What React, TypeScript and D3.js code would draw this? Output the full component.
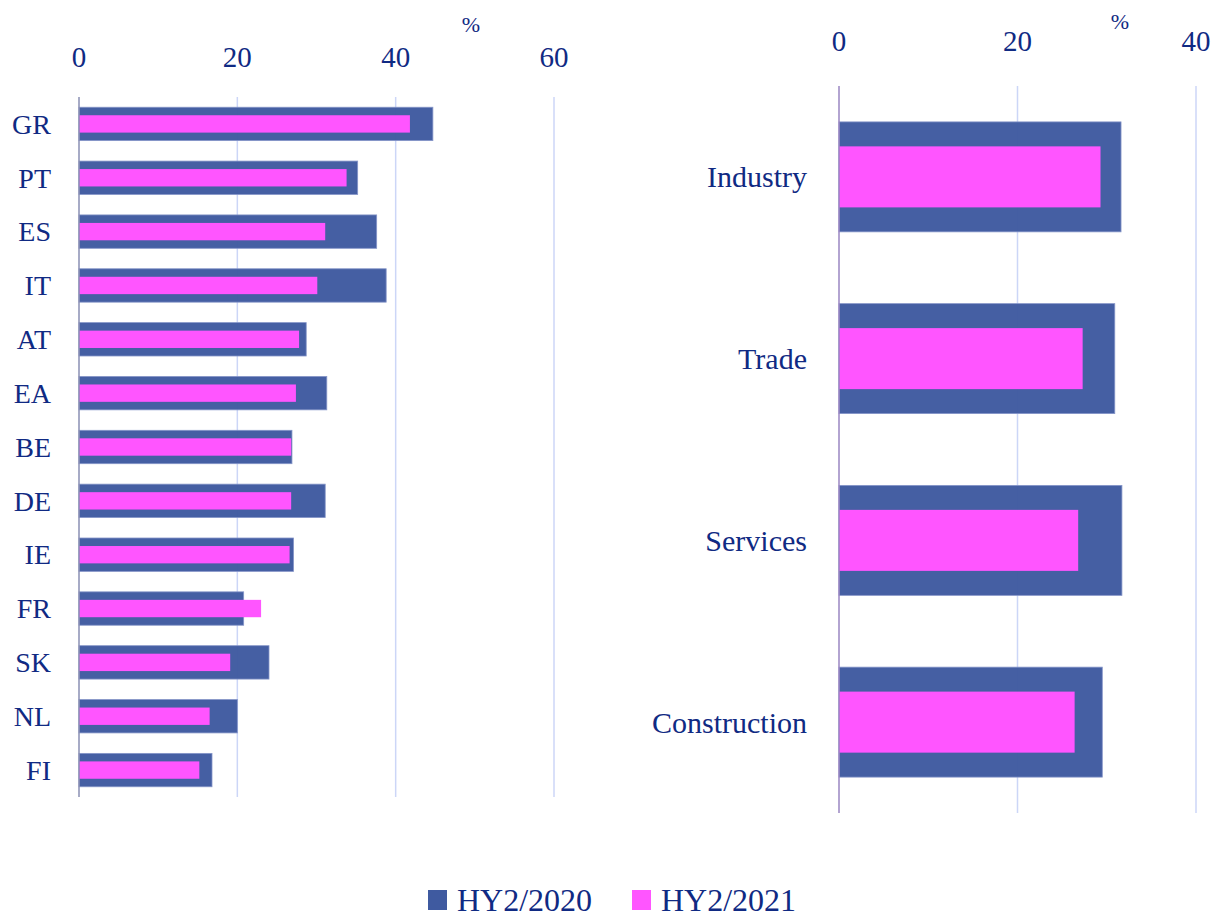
import React, { useRef, useEffect } from 'react';
import * as d3 from 'd3';

const countries = ['GR', 'PT', 'ES', 'IT', 'AT', 'EA', 'BE', 'DE', 'IE', 'FR', 'SK', 'NL', 'FI'];
const countries2020 = [44.7, 35.2, 37.6, 38.8, 28.7, 31.3, 26.9, 31.1, 27.1, 20.8, 24.0, 20.0, 16.8];
const countries2021 = [41.8, 33.8, 31.1, 30.1, 27.8, 27.4, 26.8, 26.8, 26.6, 23.0, 19.1, 16.5, 15.2];

const sectors = ['Industry', 'Trade', 'Services', 'Construction'];
const sectors2020 = [31.6, 30.9, 31.7, 29.5];
const sectors2021 = [29.3, 27.3, 26.8, 26.4];

const leftTicks = [0, 20, 40, 60];
const rightTicks = [0, 20, 40];
const seriesNames = ['HY2/2020', 'HY2/2021'];

const DARK = '#3f5aa0';
const PINK = '#ff55ff';
const TEXT = '#102a83';
const GRID = '#ccd6f7';
const FONT = '"Liberation Serif", "DejaVu Serif", serif';

const W = 1223;
const H = 918;

const App = () => {
  const svgRef = useRef<SVGSVGElement>(null);

  useEffect(() => {
    const svg = d3.select(svgRef.current);
    svg.selectAll('*').remove();

    // one horizontal bar panel: wide dark bar with a thinner pink bar on top
    const panel = (opts) => {
      const { cats, v1, v2, x, y, ticks, tickY, labelX, labelSize, axisColor, pinkFrac, pctX, pctY } = opts;
      const g = svg.append('g');
      const [y0, y1] = y.range();

      g.selectAll('.grid')
        .data(ticks.filter(t => t !== 0))
        .enter().append('line')
        .attr('x1', d => x(d)).attr('x2', d => x(d))
        .attr('y1', y0).attr('y2', y1)
        .attr('stroke', GRID).attr('stroke-width', 1.5);

      g.selectAll('.tick')
        .data(ticks)
        .enter().append('text')
        .attr('x', d => x(d)).attr('y', tickY)
        .attr('text-anchor', 'middle')
        .attr('font-size', 29)
        .attr('fill', TEXT)
        .text(d => d);

      g.append('text')
        .attr('x', pctX).attr('y', pctY)
        .attr('text-anchor', 'middle')
        .attr('font-size', 22)
        .attr('fill', TEXT)
        .text('%');

      const bw = y.bandwidth();
      g.selectAll('.dark')
        .data(cats)
        .enter().append('rect')
        .attr('x', x(0))
        .attr('y', d => y(d))
        .attr('width', (d, i) => x(v1[i]) - x(0))
        .attr('height', bw)
        .attr('fill', DARK)
        .attr('fill-opacity', 0.97)
        .attr('stroke', '#8595c8')
        .attr('stroke-width', 0.8);

      const ph = bw * pinkFrac;
      g.selectAll('.pink')
        .data(cats)
        .enter().append('rect')
        .attr('x', x(0))
        .attr('y', d => y(d) + (bw - ph) / 2)
        .attr('width', (d, i) => x(v2[i]) - x(0))
        .attr('height', ph)
        .attr('fill', PINK);

      g.append('line')
        .attr('x1', x(0)).attr('x2', x(0))
        .attr('y1', y0).attr('y2', y1)
        .attr('stroke', axisColor).attr('stroke-width', 1.5);

      g.selectAll('.cat')
        .data(cats)
        .enter().append('text')
        .attr('x', labelX)
        .attr('y', d => y(d) + bw / 2)
        .attr('dy', '0.35em')
        .attr('text-anchor', 'end')
        .attr('font-size', labelSize)
        .attr('fill', TEXT)
        .text(d => d);
    };

    const xL = d3.scaleLinear().domain([0, 60]).range([79, 554]);
    const yL = d3.scaleBand().domain(countries).range([97, 797])
      .paddingInner(0.38).paddingOuter(0.19);

    panel({
      cats: countries, v1: countries2020, v2: countries2021,
      x: xL, y: yL, ticks: leftTicks, tickY: 67, labelX: 51, labelSize: 28,
      axisColor: '#8a8fb3', pinkFrac: 0.52, pctX: 471, pctY: 32
    });

    const xR = d3.scaleLinear().domain([0, 40]).range([839, 1196]);
    const yR = d3.scaleBand().domain(sectors).range([86, 813])
      .paddingInner(0.395).paddingOuter(0.1975);

    panel({
      cats: sectors, v1: sectors2020, v2: sectors2021,
      x: xR, y: yR, ticks: rightTicks, tickY: 51, labelX: 807, labelSize: 30,
      axisColor: '#9a86c2', pinkFrac: 0.555, pctX: 1120, pctY: 29
    });

    // legend
    const legend = svg.append('g');
    const items = [
      { name: seriesNames[0], color: DARK, x: 428 },
      { name: seriesNames[1], color: PINK, x: 632 }
    ];
    items.forEach(it => {
      legend.append('rect')
        .attr('x', it.x).attr('y', 890)
        .attr('width', 19).attr('height', 20)
        .attr('fill', it.color);
      legend.append('text')
        .attr('x', it.x + 29).attr('y', 911)
        .attr('font-size', 32)
        .attr('fill', TEXT)
        .text(it.name);
    });
  }, []);

  return (
    <svg
      ref={svgRef}
      width={W}
      height={H}
      style={{ position: 'absolute', left: 0, top: 0, fontFamily: FONT, background: '#fff' }}
    />
  );
};

export default App;
